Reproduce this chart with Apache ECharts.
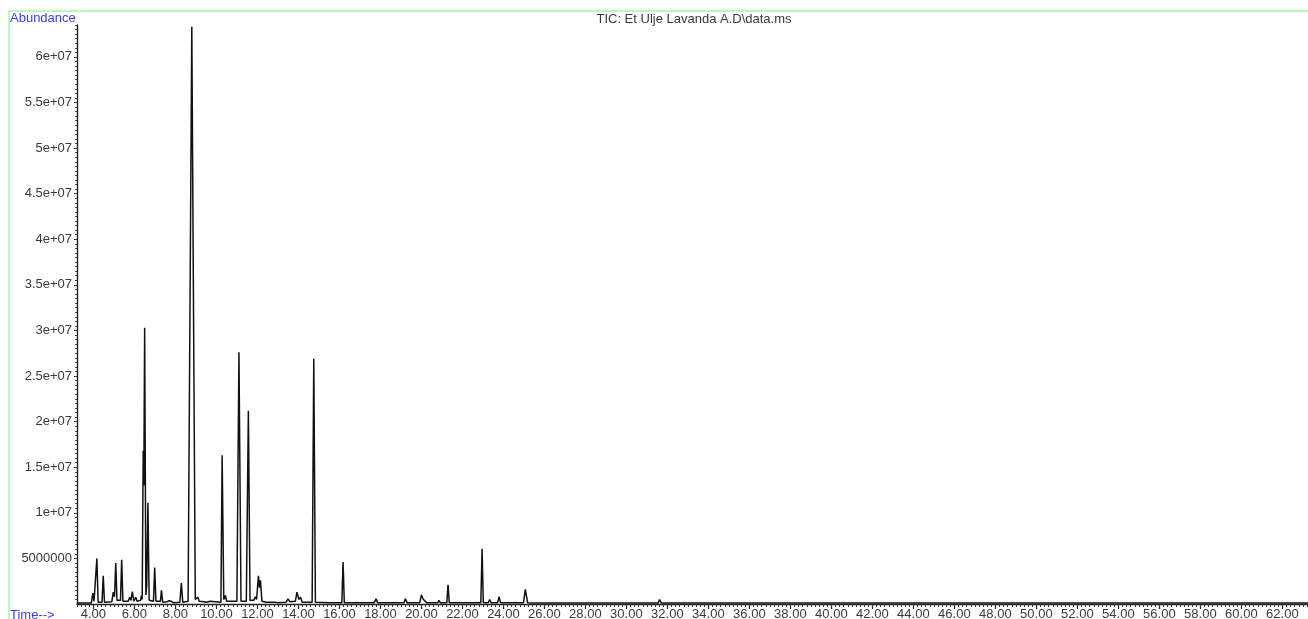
<!DOCTYPE html>
<html>
<head>
<meta charset="utf-8">
<script src="https://cdn.jsdelivr.net/npm/echarts@6/dist/echarts.min.js"></script>
<style>
html,body{margin:0;padding:0;background:#fff;}
#chart{width:1308px;height:619px;}
</style>
</head>
<body>
<div id="chart"></div>
<script>
// Retention time (min)
const retentionTime = [
  3.20, 3.90, 3.97, 4.03, 4.12, 4.17, 4.23, 4.42, 4.48, 4.54,
  4.90, 4.97, 5.03, 5.09, 5.15, 5.32, 5.38, 5.44, 5.70, 5.77,
  5.83, 5.90, 5.97, 6.07, 6.13, 6.30, 6.34, 6.38, 6.43, 6.46,
  6.50, 6.56, 6.60, 6.66, 6.72, 6.93, 6.99, 7.05, 7.27, 7.32,
  7.38, 7.60, 7.70, 7.80, 7.90, 8.22, 8.29, 8.36, 8.62, 8.80,
  8.97, 9.05, 9.10, 9.16, 9.40, 9.45, 9.50, 9.70, 10.22, 10.28,
  10.36, 10.44, 10.50, 11.00, 11.10, 11.20, 11.46, 11.56, 11.64, 11.82,
  11.90, 11.96, 12.05, 12.10, 12.15, 12.22, 12.43, 12.50, 12.57, 12.83,
  12.90, 12.97, 13.40, 13.49, 13.58, 13.85, 13.93, 14.02, 14.11, 14.18,
  14.67, 14.75, 14.83, 15.50, 16.12, 16.18, 16.24, 17.70, 17.79, 17.86,
  19.15, 19.22, 19.30, 19.92, 20.00, 20.08, 20.15, 20.25, 20.80, 20.86,
  20.92, 21.24, 21.30, 21.36, 21.60, 21.67, 21.74, 21.96, 22.03, 22.10,
  22.37, 22.44, 22.51, 22.90, 22.96, 23.02, 23.26, 23.33, 23.40, 23.72,
  23.79, 23.86, 24.23, 24.30, 24.37, 24.98, 25.07, 25.18, 25.43, 25.50,
  25.57, 27.63, 27.70, 27.77, 31.55, 31.62, 31.70, 55.30, 60.30, 63.25
];
// Abundance (counts)
const abundance = [
  1.2e5, 1.2e5, 1.2e6, 3.0e5, 2.0e5, 5.0e6, 2.0e5, 2.0e5, 3.1e6, 2.0e5,
  2.5e5, 1.3e6, 8.0e5, 4.5e6, 4.0e5, 4.0e5, 4.85e6, 3.0e5, 3.0e5, 7.5e5,
  4.0e5, 1.37e6, 3.0e5, 7.5e5, 3.0e5, 4.0e5, 9.3e5, 5.0e5, 1.68e7, 1.3e7,
  3.03e7, 1.0e6, 2.0e6, 1.11e7, 4.0e5, 3.0e5, 4.0e6, 3.0e5, 3.0e5, 1.5e6,
  2.0e5, 2.5e5, 3.5e5, 3.0e5, 1.5e5, 2.0e5, 2.3e6, 2.0e5, 3.0e5, 6.33e7,
  5.0e5, 3.0e5, 7.5e5, 3.0e5, 2.5e5, 3.5e5, 2.0e5, 3.0e5, 2.0e5, 1.63e7,
  5.0e5, 9.3e5, 3.0e5, 3.0e5, 2.76e7, 3.0e5, 3.0e5, 2.12e7, 4.0e5, 4.0e5,
  8.0e5, 5.0e5, 3.1e6, 1.8e6, 2.6e6, 3.0e5, 2.0e5, 3.0e5, 2.0e5, 2.0e5,
  3.0e5, 1.5e5, 2.0e5, 5.7e5, 2.5e5, 3.0e5, 1.3e6, 5.0e5, 7.5e5, 2.0e5,
  2.0e5, 2.69e7, 2.0e5, 1.5e5, 1.5e5, 4.6e6, 1.5e5, 1.5e5, 5.7e5, 1.5e5,
  1.5e5, 5.7e5, 1.5e5, 1.5e5, 1.0e6, 5.5e5, 4.5e5, 1.5e5, 1.5e5, 4.0e5,
  1.5e5, 1.5e5, 2.1e6, 1.5e5, 1.5e5, 3.5e5, 1.5e5, 1.5e5, 3.5e5, 1.5e5,
  1.5e5, 3.0e5, 1.5e5, 1.5e5, 6.05e6, 1.5e5, 1.5e5, 5.0e5, 1.5e5, 1.5e5,
  8.0e5, 1.5e5, 1.5e5, 2.5e5, 1.5e5, 1.5e5, 1.6e6, 1.5e5, 1.2e5, 2.5e5,
  1.0e5, 1.0e5, 2.5e5, 1.0e5, 1.0e5, 5.0e5, 1.0e5, 1.2e5, 1.2e5, 1.0e5
];
// Axis ticks
const xTickValues = [4,6,8,10,12,14,16,18,20,22,24,26,28,30,32,34,36,38,40,42,44,46,48,50,52,54,56,58,60,62];
const yTickValues = [5e6,1e7,1.5e7,2e7,2.5e7,3e7,3.5e7,4e7,4.5e7,5e7,5.5e7,6e7];
const yTickLabels = ['5000000','1e+07','1.5e+07','2e+07','2.5e+07','3e+07','3.5e+07','4e+07','4.5e+07','5e+07','5.5e+07','6e+07'];
const chartTitle = 'TIC: Et Ulje Lavanda A.D\\data.ms';

const X_MIN = 3.2, X_MAX = 63.25, Y_MIN = 0, Y_MAX = 6.35e7;

const seriesData = retentionTime.map((t, i) => [t, abundance[i]]);
const xMinor = [];
for (let k = 16; k <= 316; k++) xMinor.push(+(k * 0.2).toFixed(2));
const yMinor = [];
for (let k = 1; k <= 127; k++) yMinor.push(k * 5e5);

const font = 'Arial, "Liberation Sans", sans-serif';
const chart = echarts.init(document.getElementById('chart'), null, {renderer: 'canvas'});
chart.setOption({
  animation: false,
  backgroundColor: '#ffffff',
  grid: {left: 77, right: 0, top: 25, bottom: 15, containLabel: false, outerBoundsMode: 'none'},
  xAxis: [{
    type: 'value', min: X_MIN, max: X_MAX,
    axisLine: {show: true, onZero: false, lineStyle: {color: '#222', width: 1.4}},
    axisTick: {show: true, customValues: xTickValues, length: 5, lineStyle: {color: '#222', width: 1.2}},
    axisLabel: {show: true, customValues: xTickValues, margin: 4, hideOverlap: false,
      formatter: v => v.toFixed(2), color: '#3a3a3a', fontSize: 13, fontFamily: font},
    splitLine: {show: false}
  }, {
    type: 'value', min: X_MIN, max: X_MAX, position: 'bottom',
    axisLine: {show: false},
    axisTick: {show: true, customValues: xMinor, length: 3, lineStyle: {color: '#333', width: 1}},
    axisLabel: {show: false},
    splitLine: {show: false}
  }],
  yAxis: [{
    type: 'value', min: Y_MIN, max: Y_MAX,
    axisLine: {show: true, onZero: false, lineStyle: {color: '#222', width: 1.4}},
    axisTick: {show: true, customValues: yTickValues, length: 3, lineStyle: {color: '#222'}},
    axisLabel: {show: true, customValues: yTickValues, margin: 5,
      formatter: v => { const i = yTickValues.indexOf(v); return i >= 0 ? yTickLabels[i] : ''; },
      color: '#3a3a3a', fontSize: 13, fontFamily: font},
    splitLine: {show: false}
  }, {
    type: 'value', min: Y_MIN, max: Y_MAX, position: 'left',
    axisLine: {show: false},
    axisTick: {show: true, customValues: yMinor, length: 2, lineStyle: {color: '#444'}},
    axisLabel: {show: false},
    splitLine: {show: false}
  }],
  series: [{
    type: 'line', xAxisIndex: 0, yAxisIndex: 0,
    data: seriesData, showSymbol: false, symbol: 'none',
    lineStyle: {color: '#111', width: 1.5},
    clip: true
  }],
  graphic: [
    {type: 'line', shape: {x1: 9, y1: 11, x2: 1308, y2: 11}, style: {stroke: '#a8f5a8', lineWidth: 1.5}, silent: true},
    {type: 'line', shape: {x1: 9, y1: 11, x2: 9, y2: 619}, style: {stroke: '#a8f5a8', lineWidth: 1.5}, silent: true},
    {type: 'text', left: 10, top: 12, style: {text: 'Abundance', fill: '#3a3aff', font: '13px ' + font}},
    {type: 'text', left: 10, top: 609, style: {text: 'Time-->', fill: '#3a3aff', font: '13px ' + font}},
    {type: 'text', x: 694, y: 19, style: {text: chartTitle, fill: '#3a3a3a', font: '13px ' + font, align: 'center', verticalAlign: 'middle'}}
  ]
});
</script>
</body>
</html>
